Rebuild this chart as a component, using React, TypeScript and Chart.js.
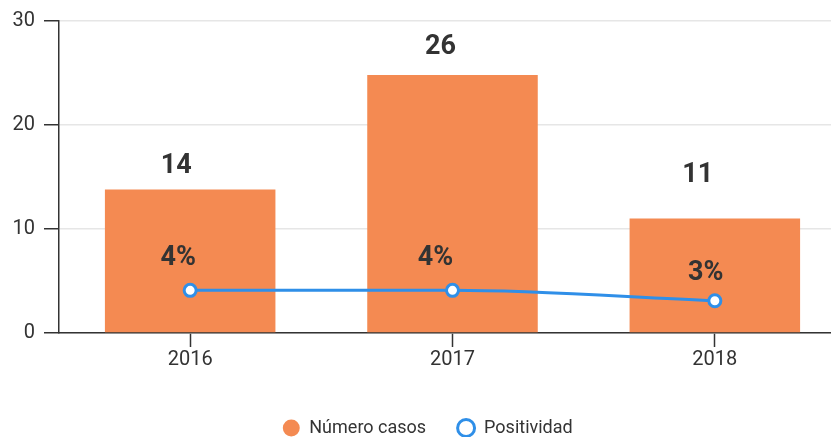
import React, { useEffect, useRef } from "react";
import { Chart, registerables } from "chart.js";

Chart.register(...registerables);

const categories = ["2016", "2017", "2018"];
const casos = [13.8, 24.8, 11.0];
const casosLabels = ["14", "26", "11"];
const positividad = [4.1, 4.1, 3.1];
const positividadLabels = ["4%", "4%", "3%"];
const yMin = 0;
const yMax = 30;
const yStep = 10;

// label placement relative to each mark (style, not data)
const barLabelOffsets = [[-14, -23], [-12, -28], [-17, -43]];
const lineLabelOffsets = [[-12, -32], [-17, -32], [-9, -28]];

const TEXT = "#333333";
const ORANGE = "#F48A52";
const BLUE = "#2F8FE8";
const FONT = "Roboto";

const valueLabels = {
  id: "valueLabels",
  afterDatasetsDraw(chart: any) {
    const ctx = chart.ctx;
    ctx.save();
    ctx.font = `bold 27px ${FONT}`;
    ctx.fillStyle = TEXT;
    ctx.textAlign = "center";
    ctx.textBaseline = "middle";
    chart.data.datasets.forEach((ds: any, di: number) => {
      const meta = chart.getDatasetMeta(di);
      const labels = ds.type === "line" ? positividadLabels : casosLabels;
      const offs = ds.type === "line" ? lineLabelOffsets : barLabelOffsets;
      meta.data.forEach((el: any, i: number) => {
        ctx.fillText(labels[i], el.x + offs[i][0], el.y + offs[i][1]);
      });
    });
    ctx.restore();
  },
};

export default function App() {
  const ref = useRef<HTMLCanvasElement>(null);
  useEffect(() => {
    document.body.style.margin = "0";
    const chart = new Chart(ref.current as HTMLCanvasElement, {
      type: "bar",
      data: {
        labels: categories,
        datasets: [
          {
            type: "bar",
            label: "Número casos",
            data: casos,
            backgroundColor: ORANGE,
            borderWidth: 0,
            barPercentage: 0.65,
            categoryPercentage: 1,
            order: 1,
          } as any,
          {
            type: "line",
            label: "Positividad",
            data: positividad,
            borderColor: BLUE,
            backgroundColor: "#ffffff",
            borderWidth: 3,
            pointRadius: 6,
            pointBorderWidth: 3,
            pointBackgroundColor: "#ffffff",
            pointBorderColor: BLUE,
            cubicInterpolationMode: "monotone",
            order: 0,
          } as any,
        ],
      },
      options: {
        responsive: false,
        animation: false,
        layout: { padding: { top: 19, right: 23, left: 9, bottom: 0 } },
        plugins: {
          tooltip: { enabled: false },
          legend: {
            position: "bottom",
            labels: {
              usePointStyle: true,
              boxHeight: 12,
              padding: 31,
              color: TEXT,
              font: { family: FONT, size: 18 },
              sort: (a: any, b: any) => a.datasetIndex - b.datasetIndex,
            },
          },
        },
        scales: {
          x: {
            offset: true,
            grid: {
              drawOnChartArea: false,
              drawTicks: true,
              tickLength: 14,
              tickColor: TEXT,
              tickWidth: 1.5,
              offset: false,
            },
            border: { color: TEXT, width: 1.5 },
            ticks: { color: TEXT, font: { family: FONT, size: 20 }, padding: 1 },
            afterFit: (s: any) => {
              s.height = 55;
            },
          },
          y: {
            min: yMin,
            max: yMax,
            ticks: {
              stepSize: yStep,
              color: TEXT,
              font: { family: FONT, size: 20 },
              padding: 9,
            },
            grid: {
              color: "#e6e6e6",
              lineWidth: 1.5,
              tickColor: TEXT,
              tickLength: 15,
              tickWidth: 1.5,
            },
            border: { color: TEXT, width: 1.5 },
            afterFit: (s: any) => {
              s.width = 50;
            },
          },
        },
      },
      plugins: [valueLabels],
    } as any);
    return () => chart.destroy();
  }, []);
  return (
    <div style={{ width: 831, height: 437, overflow: "hidden" }}>
      <canvas ref={ref} width={869} height={447} style={{ display: "block" }} />
    </div>
  );
}
